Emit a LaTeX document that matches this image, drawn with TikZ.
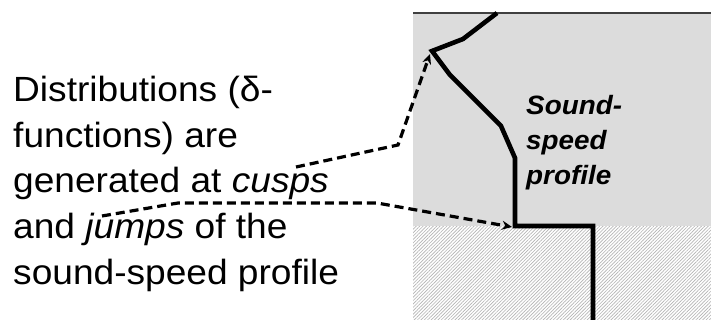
\documentclass[tikz,border=0pt]{standalone}
\usepackage{fontspec}
\setmainfont{Liberation Sans}
\newfontfamily\leftfont[FakeStretch=1.06]{Liberation Sans}
\newfontfamily\labelfont[FakeStretch=1.05]{Liberation Sans}
\usetikzlibrary{patterns.meta,arrows.meta}
\definecolor{regiongray}{HTML}{DCDCDC}
\definecolor{hatchgray}{HTML}{B4B4B4}
\begin{document}
\begin{tikzpicture}[x=1pt,y=-1pt,
  lefttext/.style={anchor=base west,inner sep=0pt,font=\leftfont\fontsize{35}{42}\selectfont},
  labeltext/.style={anchor=base west,inner sep=0pt,font=\labelfont\bfseries\itshape\fontsize{26.5}{32}\selectfont},
  profileline/.style={line width=4.6pt,line join=miter,black},
  pointer/.style={line width=3.2pt,dash pattern=on 9pt off 5pt,-{Stealth[length=10pt,width=9pt]}}]
\useasboundingbox (0,0) rectangle (711,320);
% regions
\fill[regiongray] (413,13) rectangle (711,226);
\fill[white] (413,226) rectangle (711,320);
\fill[pattern={Lines[angle=45,distance=2.4pt,line width=0.65pt]},pattern color=hatchgray] (413,226) rectangle (711,320);
\draw[line width=1.2pt,gray!50!black] (413,13) -- (711,13);
% profile points
\coordinate (p0) at (497,13);
\coordinate (p1) at (463,39);
\coordinate (cusp) at (432,51);
\coordinate (p3) at (450,75);
\coordinate (p4) at (501,126);
\coordinate (p5) at (515,158);
\coordinate (jump) at (515,226);
\coordinate (p7) at (593,226);
\coordinate (p8) at (593,320);
\draw[profileline] (p0) -- (p1) -- (cusp) -- (p3) -- (p4) -- (p5) -- (jump) -- (p7) -- (p8);
% texts
\node[lefttext] (l1) at (13,102) {Distributions (δ-};
\node[lefttext] (l2) at (13,147.5) {functions) are};
\node[lefttext] (l3) at (13,193) {generated at \textit{cusps}};
\node[lefttext] (l4) at (13,238.5) {and \textit{jumps} of the};
\node[lefttext] (l5) at (13,284) {sound-speed profile};
\node[labeltext] (s1) at (526,115) {Sound-};
\node[labeltext] (s2) at (526,150) {speed};
\node[labeltext] (s3) at (526,185) {profile};
% pointers
\coordinate (a0) at (296,167);
\coordinate (a1) at (398,145);
\coordinate (b0) at (102,216);
\coordinate (b1) at (178,203);
\coordinate (b2) at (377,203);
\draw[pointer] (a0) -- (a1) -- ([shift={(-2,3)}]cusp);
\draw[pointer] (b0) -- (b1) -- (b2) -- ([shift={(-3,1)}]jump);
\end{tikzpicture}
\end{document}
